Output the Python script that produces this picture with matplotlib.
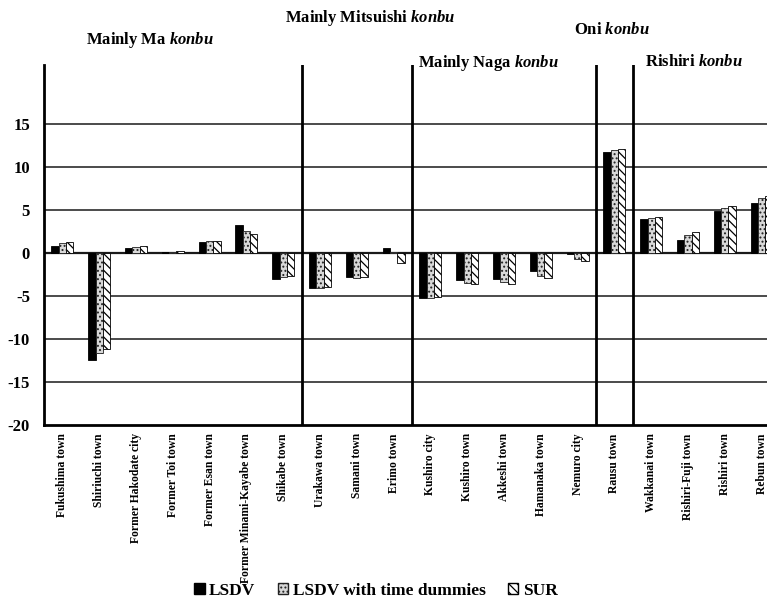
import numpy as np
import matplotlib
matplotlib.use("Agg")
import matplotlib.pyplot as plt
from matplotlib.patches import Patch

plt.rcParams["font.family"] = ["Liberation Serif", "DejaVu Serif"]
plt.rcParams["font.weight"] = "bold"
plt.rcParams["mathtext.fontset"] = "custom"
plt.rcParams["mathtext.rm"] = "Liberation Serif:bold"
plt.rcParams["mathtext.it"] = "Liberation Serif:italic:bold"
plt.rcParams["hatch.linewidth"] = 0.9

# data
towns = ["Fukushima town", "Shiriuchi town", "Former Hakodate city", "Former Toi town",
         "Former Esan town", "Former Minami-Kayabe town", "Shikabe town",
         "Urakawa town", "Samani town", "Erimo town",
         "Kushiro city", "Kushiro town", "Akkeshi town", "Hamanaka town", "Nemuro city",
         "Rausu town",
         "Wakkanai town", "Rishiri-Fuji town", "Rishiri town", "Rebun town"]
lsdv = [0.85, -12.4, 0.55, 0.15, 1.35, 3.3, -2.95,
        -4.1, -2.75, 0.6,
        -5.25, -3.15, -3.05, -2.1, -0.05,
        11.8,
        4.0, 1.55, 4.95, 5.8]
lsdv_td = [1.15, -11.6, 0.7, 0.15, 1.45, 2.55, -2.8,
           -4.05, -2.85, 0.1,
           -5.25, -3.45, -3.4, -2.7, -0.65,
           11.95,
           4.1, 2.15, 5.25, 6.4]
sur = [1.3, -11.2, 0.85, 0.25, 1.45, 2.25, -2.65,
       -3.95, -2.8, -1.2,
       -5.15, -3.6, -3.55, -2.85, -0.9,
       12.1,
       4.25, 2.5, 5.45, 6.6]
group_names = ["Mainly Ma", "Mainly Mitsuishi", "Mainly Naga", "Oni", "Rishiri"]
group_breaks = [6.5, 9.5, 14.5, 15.5]
yticks = [15, 10, 5, 0, -5, -10, -15, -20]

fig = plt.figure(figsize=(7.67, 6.11), dpi=100)
ax = fig.add_axes([44 / 767, 186 / 611, 736 / 767, 360 / 611])

x = np.arange(len(towns))
w = 0.2
ax.bar(x - w, lsdv, w, color="black", edgecolor="black", linewidth=0.6, zorder=3)
ax.bar(x, lsdv_td, w, color="#d8d8d8", edgecolor="#222222", hatch="....", linewidth=0.6, zorder=3)
ax.bar(x + w, sur, w, color="white", edgecolor="black", hatch="\\\\\\\\", linewidth=0.6, zorder=3)

for yv in yticks[:-1]:
    ax.axhline(yv, color="#1a1a1a", linewidth=1.6 if yv == 0 else 1.1, zorder=1)
for xb in group_breaks:
    ax.axvline(xb, color="black", linewidth=2.0, zorder=4)

ax.set_xlim(-0.5, len(towns) - 0.5)
ax.set_ylim(-20, 21.9)
ax.set_yticks(yticks)
ax.set_yticklabels([str(v) for v in yticks], fontsize=12, fontweight="bold")
ax.set_xticks(x)
ax.set_xticklabels(towns, rotation=90, fontsize=8.4, fontweight="bold", va="top")
ax.tick_params(length=0, pad=10)
ax.tick_params(axis="x", pad=6)
ax.spines["top"].set_visible(False)
ax.spines["right"].set_visible(False)
ax.spines["left"].set_linewidth(2.0)
ax.spines["bottom"].set_linewidth(2.0)

# group titles
title_pos = [(150, 40, "center"), (370, 18, "center"), (418, 63, "left"),
             (612, 30, "center"), (645, 62, "left")]
for name, (px, py, ha) in zip(group_names, title_pos):
    fig.text(px / 767, 1 - py / 611, name + r" $\mathit{konbu}$", ha=ha, va="center",
             fontsize=12, fontweight="bold")

handles = [Patch(facecolor="black", edgecolor="black"),
           Patch(facecolor="#d8d8d8", edgecolor="#222222", hatch="...."),
           Patch(facecolor="white", edgecolor="black", hatch="\\\\\\\\")]
fig.legend(handles, ["LSDV", "LSDV with time dummies", "SUR"], loc="center",
           bbox_to_anchor=(376 / 767, 1 - 591 / 611), ncol=3, frameon=False,
           handlelength=0.6, handleheight=0.6, handletextpad=0.25,
           columnspacing=1.3, prop={"weight": "bold", "size": 12.5})

fig.savefig("out.png", dpi=100)
